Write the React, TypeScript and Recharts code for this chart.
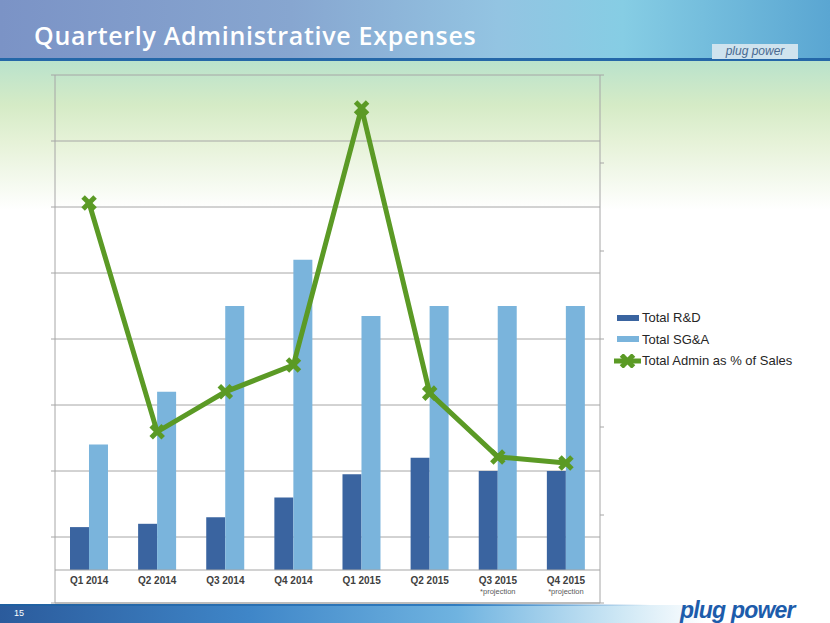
import { ComposedChart, Bar, Line, XAxis, YAxis, CartesianGrid, ReferenceLine } from 'recharts'

const QUARTERS = ['Q1 2014', 'Q2 2014', 'Q3 2014', 'Q4 2014', 'Q1 2015', 'Q2 2015', 'Q3 2015', 'Q4 2015']
const NOTES = ['', '', '', '', '', '', '*projection', '*projection']
const RND = [1.3, 1.4, 1.6, 2.2, 2.9, 3.4, 3.0, 3.0]
const SGA = [3.8, 5.4, 8.0, 9.4, 7.7, 8.0, 8.0, 8.0]
const ADMIN_PCT = [90.9, 38.9, 48.0, 54.1, 112.5, 47.7, 33.2, 31.8]

const LEFT_TICKS = [-1, 1, 3, 5, 7, 9, 11, 13, 15]
const RIGHT_TICKS = [0, 20, 40, 60, 80, 100, 120]

const RND_COLOR = '#3a64a0'
const SGA_COLOR = '#7ab4dc'
const LINE_COLOR = '#5b9a25'
const GRID = '#a6a6a6'
const FONT = '"Liberation Sans", Arial, sans-serif'

const data = QUARTERS.map((q, i) => ({
  quarter: q,
  note: NOTES[i],
  rnd: RND[i],
  sga: SGA[i],
  admin: ADMIN_PCT[i],
}))

function CrossDot(props: any) {
  const { cx, cy } = props
  if (cx == null || cy == null) return null
  const s = 6
  return (
    <g>
      <line x1={cx - s} y1={cy - s} x2={cx + s} y2={cy + s} stroke={LINE_COLOR} strokeWidth={5} />
      <line x1={cx - s} y1={cy + s} x2={cx + s} y2={cy - s} stroke={LINE_COLOR} strokeWidth={5} />
    </g>
  )
}

function QuarterTick(props: any) {
  const { x, y, payload, index } = props
  const note = NOTES[index] || ''
  return (
    <g>
      <text x={x} y={y - 19} textAnchor="middle" fontFamily={FONT} fontSize={10} fontWeight="bold" fill="#404040">
        {payload.value}
      </text>
      {note && (
        <text x={x} y={y - 9} textAnchor="middle" fontFamily={FONT} fontSize={7.5} fill="#595959">
          {note}
        </text>
      )}
    </g>
  )
}

function LegendBox() {
  const row = { display: 'flex', alignItems: 'center', height: 21.5 } as const
  const label = { fontFamily: FONT, fontSize: 13, color: '#262626', marginLeft: 1 }
  return (
    <div style={{ position: 'absolute', left: 614, top: 307 }}>
      <div style={row}>
        <svg width={27} height={10}>
          <rect x={3} y={2} width={22} height={6} fill={RND_COLOR} />
        </svg>
        <span style={label}>Total R&amp;D</span>
      </div>
      <div style={row}>
        <svg width={27} height={10}>
          <rect x={3} y={2} width={22} height={6} fill={SGA_COLOR} />
        </svg>
        <span style={label}>Total SG&amp;A</span>
      </div>
      <div style={row}>
        <svg width={27} height={14}>
          <line x1={0} y1={7} x2={27} y2={7} stroke={LINE_COLOR} strokeWidth={5} />
          <CrossDot cx={13.5} cy={7} />
        </svg>
        <span style={label}>Total Admin as % of Sales</span>
      </div>
    </div>
  )
}

export default function App() {
  return (
    <div style={{ position: 'absolute', left: 0, top: 0, width: 830, height: 623, overflow: 'hidden', background: '#ffffff' }}>
      {/* soft green wash under the banner */}
      <div
        style={{
          position: 'absolute', left: 0, top: 60, width: 830, height: 150,
          background: 'linear-gradient(180deg, #b9e2cc 0%, #d5ebc6 30%, #e6f2d8 55%, #ffffff 100%)',
        }}
      />
      {/* title banner */}
      <div
        style={{
          position: 'absolute', left: 0, top: 0, width: 830, height: 59,
          background: 'linear-gradient(90deg, #7b93c6 0%, #87a6d0 35%, #93c4e2 60%, #86cde4 75%, #5aa6d2 100%)',
        }}
      />
      <div style={{ position: 'absolute', left: 0, top: 58, width: 830, height: 3, background: '#2467a8' }} />
      <div
        style={{
          position: 'absolute', left: 34, top: 18, fontFamily: '"Open Sans", sans-serif', fontSize: 25,
          fontWeight: 600, color: '#ffffff', letterSpacing: 0.7,
        }}
      >
        Quarterly Administrative Expenses
      </div>
      <div
        style={{
          position: 'absolute', left: 712, top: 44, width: 86, height: 15, background: '#cfe3ee',
          fontFamily: FONT, fontStyle: 'italic', fontSize: 12, color: '#4a6a90', textAlign: 'center', lineHeight: '15px',
        }}
      >
        plug power
      </div>
      {/* bottom band */}
      <div
        style={{
          position: 'absolute', left: 0, top: 605, width: 830, height: 18,
          background: 'linear-gradient(90deg, #2b5b9c 0%, #3f86c8 30%, #6fb3e0 55%, #cfe8f5 75%, #ffffff 85%)',
        }}
      />
      <div style={{ position: 'absolute', left: 0, top: 604, width: 650, height: 2, background: 'linear-gradient(90deg, #1f5fa0 0%, #2f7cc0 70%, rgba(255,255,255,0) 100%)' }} />
      <div style={{ position: 'absolute', left: 14, top: 608, fontFamily: FONT, fontSize: 9, color: '#ffffff' }}>15</div>
      <div
        style={{
          position: 'absolute', left: 680, top: 597, fontFamily: FONT, fontSize: 23, fontWeight: 'bold',
          fontStyle: 'italic', color: '#1d5cab', letterSpacing: -0.8,
        }}
      >
        plug power
      </div>

      <div style={{ position: 'absolute', left: 0, top: 0 }}>
        <ComposedChart
          width={830}
          height={623}
          data={data}
          margin={{ top: 75, left: 50, right: 225, bottom: 19 }}
          barGap={0}
          barCategoryGap="22%"
        >
          <CartesianGrid yAxisId="left" vertical={false} stroke={GRID} strokeWidth={1} />
          <XAxis
            dataKey="quarter"
            height={1}
            tickLine={false}
            tickSize={0}
            tickMargin={0}
            axisLine={{ stroke: GRID }}
            tick={<QuarterTick />}
            interval={0}
          />
          <YAxis
            yAxisId="left"
            width={5}
            domain={[-1, 15]}
            ticks={LEFT_TICKS}
            tickSize={4}
            tickLine={{ stroke: GRID }}
            axisLine={{ stroke: GRID }}
            tickFormatter={() => ''}
          />
          <YAxis
            yAxisId="right"
            orientation="right"
            width={5}
            domain={[0, 120]}
            ticks={RIGHT_TICKS}
            tickSize={4}
            tickLine={{ stroke: GRID }}
            axisLine={{ stroke: GRID }}
            tickFormatter={() => ''}
          />
          <ReferenceLine yAxisId="left" y={0} stroke={GRID} strokeWidth={1.2} />
          <Bar yAxisId="left" dataKey="rnd" name="Total R&D" fill={RND_COLOR} isAnimationActive={false} />
          <Bar yAxisId="left" dataKey="sga" name="Total SG&A" fill={SGA_COLOR} isAnimationActive={false} />
          <Line
            yAxisId="right"
            dataKey="admin"
            name="Total Admin as % of Sales"
            stroke={LINE_COLOR}
            strokeWidth={5}
            dot={<CrossDot />}
            activeDot={false}
            isAnimationActive={false}
          />
        </ComposedChart>
      </div>
      <LegendBox />
    </div>
  )
}
